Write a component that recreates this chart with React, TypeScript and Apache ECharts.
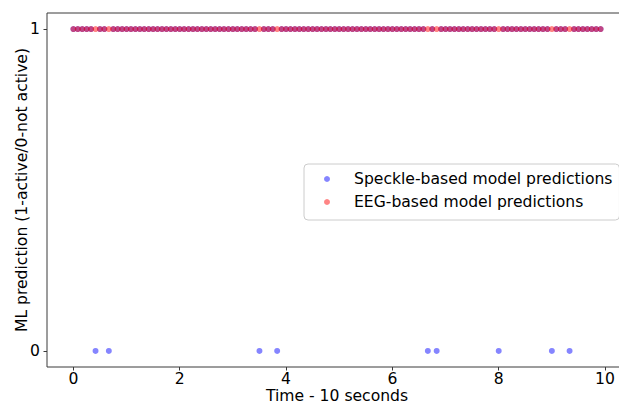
import React, { useEffect, useRef } from "react";
import * as echarts from "echarts";

// Time stamps (seconds), 12 samples per second
const times: number[] = [
  0, 0.083, 0.167, 0.25, 0.333, 0.417, 0.5, 0.583, 0.667, 0.75, 0.833, 0.917,
  1, 1.083, 1.167, 1.25, 1.333, 1.417, 1.5, 1.583, 1.667, 1.75, 1.833, 1.917,
  2, 2.083, 2.167, 2.25, 2.333, 2.417, 2.5, 2.583, 2.667, 2.75, 2.833, 2.917,
  3, 3.083, 3.167, 3.25, 3.333, 3.417, 3.5, 3.583, 3.667, 3.75, 3.833, 3.917,
  4, 4.083, 4.167, 4.25, 4.333, 4.417, 4.5, 4.583, 4.667, 4.75, 4.833, 4.917,
  5, 5.083, 5.167, 5.25, 5.333, 5.417, 5.5, 5.583, 5.667, 5.75, 5.833, 5.917,
  6, 6.083, 6.167, 6.25, 6.333, 6.417, 6.5, 6.583, 6.667, 6.75, 6.833, 6.917,
  7, 7.083, 7.167, 7.25, 7.333, 7.417, 7.5, 7.583, 7.667, 7.75, 7.833, 7.917,
  8, 8.083, 8.167, 8.25, 8.333, 8.417, 8.5, 8.583, 8.667, 8.75, 8.833, 8.917,
  9, 9.083, 9.167, 9.25, 9.333, 9.417, 9.5, 9.583, 9.667, 9.75, 9.833, 9.917,
];

const specklePred: number[] = [
  1, 1, 1, 1, 1, 0, 1, 1, 0, 1, 1, 1,
  1, 1, 1, 1, 1, 1, 1, 1, 1, 1, 1, 1,
  1, 1, 1, 1, 1, 1, 1, 1, 1, 1, 1, 1,
  1, 1, 1, 1, 1, 1, 0, 1, 1, 1, 0, 1,
  1, 1, 1, 1, 1, 1, 1, 1, 1, 1, 1, 1,
  1, 1, 1, 1, 1, 1, 1, 1, 1, 1, 1, 1,
  1, 1, 1, 1, 1, 1, 1, 1, 0, 1, 0, 1,
  1, 1, 1, 1, 1, 1, 1, 1, 1, 1, 1, 1,
  0, 1, 1, 1, 1, 1, 1, 1, 1, 1, 1, 1,
  0, 1, 1, 1, 0, 1, 1, 1, 1, 1, 1, 1,
];

const eegPred: number[] = [
  1, 1, 1, 1, 1, 1, 1, 1, 1, 1, 1, 1,
  1, 1, 1, 1, 1, 1, 1, 1, 1, 1, 1, 1,
  1, 1, 1, 1, 1, 1, 1, 1, 1, 1, 1, 1,
  1, 1, 1, 1, 1, 1, 1, 1, 1, 1, 1, 1,
  1, 1, 1, 1, 1, 1, 1, 1, 1, 1, 1, 1,
  1, 1, 1, 1, 1, 1, 1, 1, 1, 1, 1, 1,
  1, 1, 1, 1, 1, 1, 1, 1, 1, 1, 1, 1,
  1, 1, 1, 1, 1, 1, 1, 1, 1, 1, 1, 1,
  1, 1, 1, 1, 1, 1, 1, 1, 1, 1, 1, 1,
  1, 1, 1, 1, 1, 1, 1, 1, 1, 1, 1, 1,
];

const xTicks: number[] = [0, 2, 4, 6, 8, 10];
const yTicks: number[] = [0, 1];

const seriesNames = ["Speckle-based model predictions", "EEG-based model predictions"];

const FONT = "DejaVu Sans";

export default function App() {
  const ref = useRef<HTMLDivElement>(null);

  useEffect(() => {
    if (!ref.current) return;
    const chart = echarts.init(ref.current, undefined, { renderer: "svg" });
    const axisText = { color: "#000", fontSize: 15.6, fontFamily: FONT };
    chart.setOption({
      animation: false,
      backgroundColor: "#ffffff",
      grid: {
        left: 47,
        top: 13,
        right: -8,
        bottom: 36,
        containLabel: false,
        outerBoundsMode: "none",
        show: true,
        borderColor: "#3a3a3a",
        borderWidth: 1,
        backgroundColor: "transparent",
      },
      xAxis: {
        type: "value",
        min: -0.496,
        max: 10.413,
        name: "Time - 10 seconds",
        nameLocation: "middle",
        nameGap: 22,
        nameMoveOverlap: false,
        nameTextStyle: { ...axisText, verticalAlign: "top", lineHeight: 14 },
        axisLine: { show: false, onZero: false },
        axisTick: { show: true, length: 3.5, lineStyle: { color: "#3a3a3a" }, customValues: xTicks },
        axisLabel: { ...axisText, margin: 5.5, lineHeight: 13, customValues: xTicks },
        splitLine: { show: false },
      },
      yAxis: {
        type: "value",
        min: -0.05,
        max: 1.05,
        name: "ML prediction (1-active/0-not active)",
        nameLocation: "middle",
        nameGap: 17,
        nameMoveOverlap: false,
        nameTextStyle: { ...axisText },
        axisLine: { show: false, onZero: false },
        axisTick: { show: true, length: 3.5, lineStyle: { color: "#3a3a3a" }, customValues: yTicks },
        axisLabel: { ...axisText, margin: 7, customValues: yTicks },
        splitLine: { show: false },
      },
      legend: {
        orient: "vertical",
        left: 304,
        top: 164,
        data: seriesNames,
        itemWidth: 44,
        itemHeight: 6,
        itemGap: 5,
        padding: [6, 7, 9, 20],
        borderColor: "#cccccc",
        borderWidth: 1,
        borderRadius: 4,
        backgroundColor: "rgba(255,255,255,0.8)",
        textStyle: { color: "#000", fontSize: 15.6, fontFamily: FONT, lineHeight: 18 },
      },
      series: [
        {
          name: seriesNames[0],
          type: "scatter",
          symbol: "circle",
          symbolSize: 6,
          itemStyle: { color: "rgba(0,0,255,0.6)" },
          data: times.map((t, i) => [t, specklePred[i]]),
        },
        {
          name: seriesNames[1],
          type: "scatter",
          symbol: "circle",
          symbolSize: 6,
          itemStyle: { color: "rgba(255,0,0,0.6)" },
          data: times.map((t, i) => [t, eegPred[i]]),
        },
      ],
    });
    return () => chart.dispose();
  }, []);

  return (
    <div
      ref={ref}
      style={{ position: "absolute", left: 0, top: 0, width: 619, height: 403 }}
    />
  );
}
